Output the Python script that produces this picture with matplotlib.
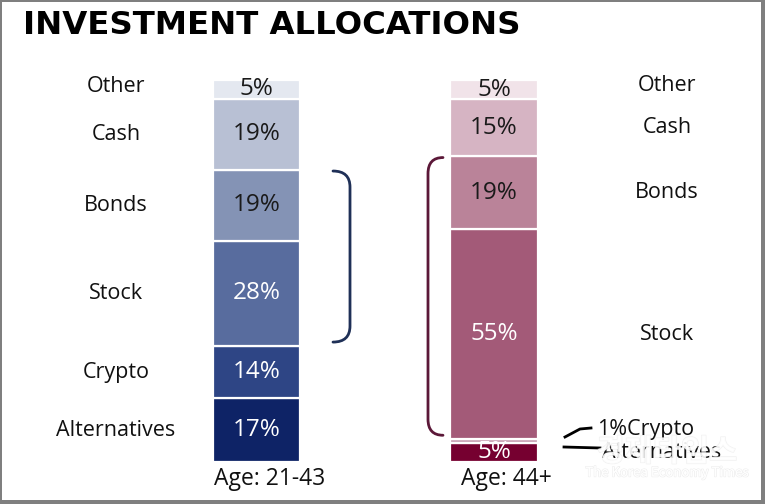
import matplotlib
matplotlib.use('Agg')
import matplotlib.pyplot as plt
import numpy as np
from matplotlib.patches import Rectangle, PathPatch
from matplotlib.path import Path
import matplotlib.patheffects as pe

# ---------------- data ----------------
categories = ['Alternatives', 'Crypto', 'Stock', 'Bonds', 'Cash', 'Other']
young = [17, 14, 28, 19, 19, 5]
old = [5, 1, 55, 19, 15, 5]
groups = ['Age: 21-43', 'Age: 44+']
title = 'INVESTMENT ALLOCATIONS'

young_colors = ['#0E2366', '#2E4585', '#586C9E', '#8493B5', '#B8C0D4', '#E4E8F0']
old_colors = ['#760030', '#C9A0B3', '#A35A78', '#BA8399', '#D6B4C3', '#F1E3E9']
young_txt = ['white', 'white', 'white', '#1a1a1a', '#1a1a1a', '#1a1a1a']
old_txt = ['white', 'white', 'white', '#1a1a1a', '#1a1a1a', '#1a1a1a']

FONT = 'Open Sans'
W, H = 765, 504
fig = plt.figure(figsize=(W / 100, H / 100), dpi=100)

# pixel overlay for frame / title / annotations
pix = fig.add_axes([0, 0, 1, 1])
pix.set_xlim(0, W)
pix.set_ylim(H, 0)
pix.axis('off')
pix.set_zorder(3)
pix.patch.set_alpha(0)

# main axes: y in percent
ax = fig.add_axes([0, 42 / H, 1, 382 / H])
ax.set_xlim(0, W)
ax.set_ylim(0, 100)
ax.axis('off')

bar_x = [256.5, 494]
bar_w = [87, 88]

def draw_bar(i, vals, colors, tcolors, label_inside):
    v = np.array(vals, dtype=float)
    v = v / v.sum() * 100
    bottoms = np.concatenate([[0], np.cumsum(v)[:-1]])
    ax.bar([bar_x[i]] * len(v), v, bottom=bottoms, width=bar_w[i],
           color=colors, edgecolor='white', linewidth=1.6)
    for k, (b, h) in enumerate(zip(bottoms, v)):
        if label_inside[k]:
            ax.text(bar_x[i], b + h / 2, f'{vals[k]}%', ha='center', va='center',
                    fontsize=17.5, color=tcolors[k], family=FONT)
    return bottoms, v

yb, yv = draw_bar(0, young, young_colors, young_txt, [True] * 6)
ob, ov = draw_bar(1, old, old_colors, old_txt, [True, False, True, True, True, True])

# category labels
for k, c in enumerate(categories):
    ax.text(116, yb[k] + yv[k] / 2 + (0.8 if k == 5 else 0), c, ha='center', va='center',
            fontsize=15.5, family=FONT, color='#111111')
for k in [2, 3, 4, 5]:
    ax.text(667, ob[k] + ov[k] / 2 + (1.0 if k == 5 else 0), categories[k], ha='center',
            va='center', fontsize=15.5, family=FONT, color='#111111')

# brackets spanning Stock + Bonds
def bracket(x_tip, x_line, y0, y1, r, color):
    verts = [(x_tip, y1), (x_line, y1), (x_line, y1 - r),
             (x_line, y0 + r), (x_line, y0), (x_tip, y0)]
    codes = [Path.MOVETO, Path.CURVE3, Path.CURVE3, Path.LINETO, Path.CURVE3, Path.CURVE3]
    ax.add_patch(PathPatch(Path(verts, codes), fill=False, edgecolor=color,
                           linewidth=2, capstyle='round'))

bracket(333, 350, yb[2] + 1.0, yb[3] + yv[3] - 0.3, 4.2, '#1F3057')
bracket(443, 428, ob[2] + 1.0, ob[3] + ov[3] - 0.3, 4.2, '#5B1838')

# group labels
pix.text(270, 479, groups[0], ha='center', va='center', fontsize=16.5, family=FONT, color='#111111')
pix.text(506, 479, groups[1], ha='center', va='center', fontsize=16.5, family=FONT, color='#111111')

# small-segment annotations (right bar)
pix.plot([565, 580, 591], [437, 429, 428], color='black', lw=2)
pix.plot([564, 600], [447, 448], color='black', lw=2)
pix.text(597, 430, f'{old[1]}%{categories[1]}', ha='left', va='center', fontsize=15.5,
         family=FONT, color='#111111')
pix.text(602, 453, categories[0], ha='left', va='center', fontsize=15.5,
         family=FONT, color='#111111')

# title
pix.text(23, 26, title, ha='left', va='center', fontsize=23.3, fontweight='bold',
         family='DejaVu Sans', color='black')

# watermark
wm = pix.text(667, 452, '경제타임스', ha='center', va='center', fontsize=22, fontweight='bold',
              family=['Noto Sans CJK KR', 'DejaVu Sans'], color='white', alpha=0.6)
wm.set_path_effects([pe.withStroke(linewidth=1.0, foreground='#dddddd', alpha=0.4), pe.Normal()])
wm2 = pix.text(667, 473, 'The Korea Economy Times', ha='center', va='center', fontsize=9.5,
               family=['Noto Sans CJK KR', 'DejaVu Sans'], color='white', alpha=0.9)
wm2.set_path_effects([pe.withStroke(linewidth=1.0, foreground='#dddddd', alpha=0.5), pe.Normal()])

# frame
fc = '#7f7f7f'
for r in [(0, 0, 2, H), (0, 0, W, 1.5), (761.5, 0, 3.5, H), (0, 499.5, W, 4.5)]:
    pix.add_patch(Rectangle((r[0], r[1]), r[2], r[3], facecolor=fc, edgecolor='none'))

fig.savefig('out.png', dpi=100)
